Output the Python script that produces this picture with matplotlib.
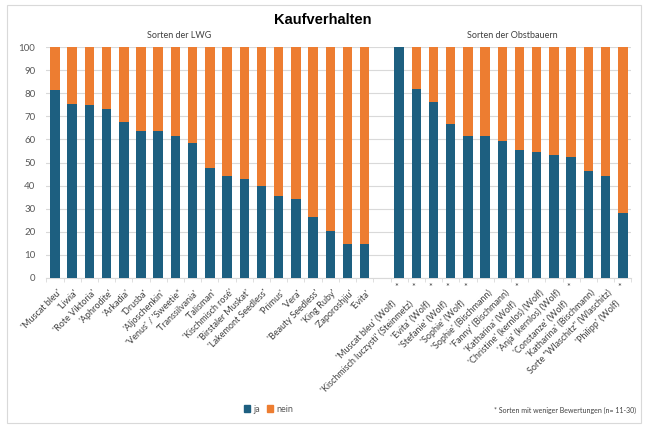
import numpy as np
import matplotlib
matplotlib.use('Agg')
import matplotlib.pyplot as plt
from matplotlib.patches import Rectangle, Patch
from matplotlib.transforms import blended_transform_factory, offset_copy

plt.rcParams['font.family'] = ['Lato', 'DejaVu Sans']

# Sorten der LWG
lwg_names = ["'Muscat bleu'", "'Liwia'", "'Rote Viktoria'", "'Aphrodite'", "'Arkadia'",
             "'Drusba'", "'Aljoschenkin'", "'Venus' / 'Sweetie*", "'Transsilvania'",
             "'Talisman'", "'Kischmisch rosé'", "'Birstaler Muskat'", "'Lakemont Seedless'",
             "'Primus'", "'Vera'", "'Beauty Seedless'", "'King Ruby'", "'Zaporoshjiu'", "'Evita'"]
lwg_ja = [81.4, 75.3, 74.9, 73.2, 67.7, 63.8, 63.6, 61.6, 58.6, 47.6,
          44.2, 42.9, 39.7, 35.5, 34.1, 26.5, 20.3, 14.8, 14.8]

# Sorten der Obstbauern
obst_names = ["'Muscat bleu' (Wolf)", "'Kischmisch luczysti' (Steinmetz)", "'Evita' (Wolf)",
              "'Stefanie' (Wolf)", "'Sophie' (Wolf)", "'Sophie' (Bischmann)",
              "'Fanny' (Bischmann)", "'Katharina' (Wolf)", "'Christine' (kernlos) (Wolf)",
              "'Anja' (kernlos) (Wolf)", "'Constanze' (Wolf)", "'Katharina' (Bischmann)",
              'Sorte "Wlaschitz" (Wlaschitz)', "'Philipp' (Wolf)"]
obst_ja = [100, 81.7, 76.1, 66.5, 61.5, 61.5, 59.4, 55.5, 54.7, 53.1, 52.4, 46.2, 44.2, 28.1]
obst_star = [1, 1, 1, 1, 1, 0, 0, 1, 0, 0, 1, 0, 0, 1]

blue = '#1d5f80'
orange = '#ed7d31'
grey_txt = '#595959'

x_lwg = np.arange(len(lwg_names))
x_obst = np.arange(len(obst_names)) + len(lwg_names) + 1
x_all = np.concatenate([x_lwg, x_obst])
names = lwg_names + obst_names
ja = np.array(lwg_ja + obst_ja, dtype=float)
nein = 100 - ja
stars = [0] * len(lwg_names) + obst_star

fig = plt.figure(figsize=(6.46, 4.30), dpi=100)
fig.patches.append(Rectangle((0.011, 0.016), 0.981, 0.972, transform=fig.transFigure,
                             fill=False, edgecolor='#d9d9d9', linewidth=0.8))

ax = fig.add_axes([0.0718, 0.3535, 0.9056, 0.537])
ax.bar(x_all, ja, width=0.55, color=blue, zorder=3)
ax.bar(x_all, nein, bottom=ja, width=0.55, color=orange, zorder=3)

ax.set_xlim(-0.5, x_obst[-1] + 0.5)
ax.set_ylim(0, 100)
ax.set_yticks(np.arange(0, 101, 10))
ax.tick_params(axis='y', length=0, labelsize=7, labelcolor=grey_txt, pad=8)
ax.grid(axis='y', color='#d9d9d9', linewidth=0.8, zorder=0)
for s in ['top', 'right', 'left']:
    ax.spines[s].set_visible(False)
ax.spines['bottom'].set_color('#d9d9d9')
ax.set_xticks(x_all)
ax.set_xticklabels([])
ax.tick_params(axis='x', which='major', length=0)
ax.set_xticks(np.arange(-0.5, x_obst[-1] + 1, 1), minor=True)
ax.tick_params(axis='x', which='minor', length=3, color='#d9d9d9')

# x labels
trans = blended_transform_factory(ax.transData, ax.transAxes)
for xi, name, st in zip(x_all, names, stars):
    if st:
        t = offset_copy(trans, fig=fig, x=-8, y=-21, units='dots')
        ax.text(xi, 0, name, transform=t, rotation=45, ha='right', va='top',
                rotation_mode='anchor', fontsize=6.5, color='#404040')
        ts = offset_copy(trans, fig=fig, x=-3, y=-10, units='dots')
        ax.text(xi, 0, '*', transform=ts, ha='center', va='center',
                fontsize=6.5, color='#404040')
    else:
        t = offset_copy(trans, fig=fig, x=2, y=-10, units='dots')
        ax.text(xi, 0, name, transform=t, rotation=45, ha='right', va='top',
                rotation_mode='anchor', fontsize=6.5, color='#404040')

fig.text(0.5, 1 - 20 / 430, 'Kaufverhalten', ha='center', va='center',
         fontsize=10.5, fontweight='bold', family='Liberation Sans')
fig.text(179 / 646, 1 - 36 / 430, 'Sorten der LWG', ha='center', va='center',
         fontsize=6.5, color='#404040')
fig.text(512 / 646, 1 - 36 / 430, 'Sorten der Obstbauern', ha='center', va='center',
         fontsize=6.5, color='#404040')

handles = [Patch(color=blue, label='ja'), Patch(color=orange, label='nein')]
fig.legend(handles=handles, loc='center left', bbox_to_anchor=(236 / 646, 1 - 409 / 430),
           ncol=2, frameon=False, fontsize=6.5, handlelength=0.7, handleheight=0.7,
           handletextpad=0.3, columnspacing=0.8, labelcolor=grey_txt)
fig.text(636 / 646, 1 - 410 / 430, '* Sorten mit weniger Bewertungen (n= 11-30)',
         ha='right', va='center', fontsize=5, color='#404040')

fig.savefig('out.png', dpi=100)
